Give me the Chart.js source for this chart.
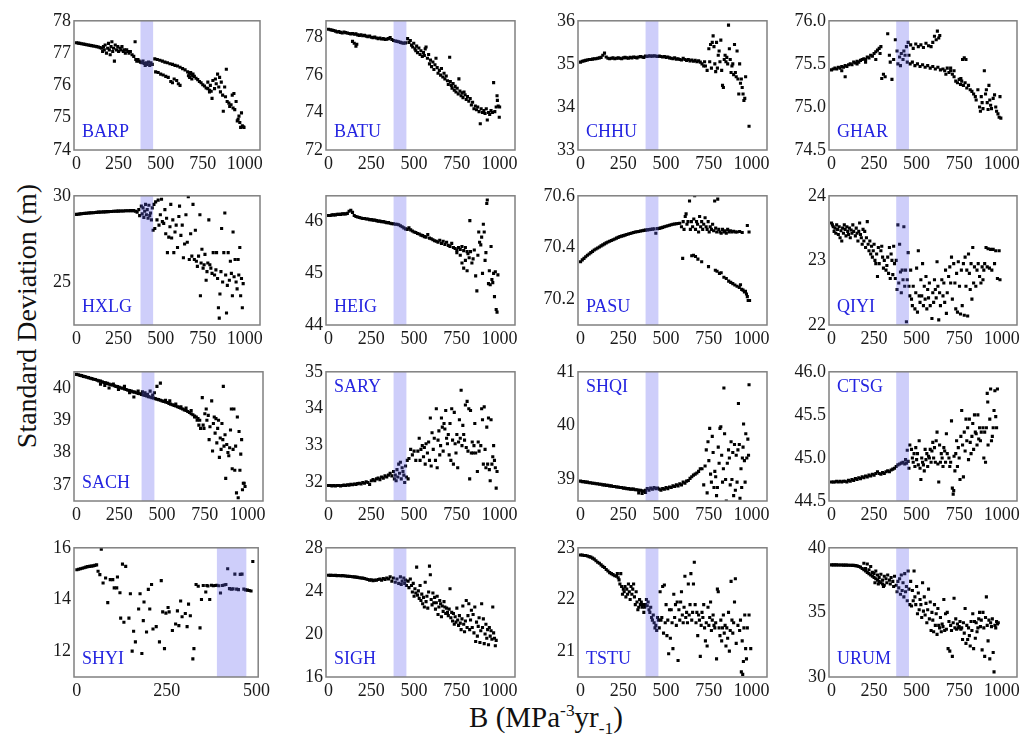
<!DOCTYPE html>
<html><head><meta charset="utf-8">
<script src="https://cdn.jsdelivr.net/npm/chart.js@4.4.0/dist/chart.umd.min.js"></script>
<style>
body{margin:0;background:#fff;width:1020px;height:737px;position:relative;overflow:hidden;font-family:'Liberation Serif',serif;}
canvas{position:absolute;}
#ytitle{position:absolute;left:27px;top:316px;transform:translate(-50%,-50%) rotate(-90deg);font-family:'Liberation Serif',serif;font-size:28px;line-height:28px;white-space:nowrap;color:#111;}
#xtitle{position:absolute;left:546px;top:703px;transform:translateX(-50%);font-family:'Liberation Serif',serif;font-size:29px;line-height:29px;white-space:nowrap;color:#111;}
#xtitle sup,#xtitle sub{font-size:60%;line-height:0;}
</style></head><body>
<div id="ytitle">Standard Deviation (m)</div>
<div id="xtitle">B (MPa<sup>-3</sup>yr<sub>-1</sub>)</div>
<script>
const BARP=[[0,77.32],[10,77.31],[20,77.3],[30,77.29],[40,77.28],[50,77.27],[60,77.26],[70,77.25],[80,77.24],[90,77.23],[100,77.22],[110,77.21],[120,77.2],[130,77.19],[140,77.17],[150,77.15],
[155,77.05],[160,77.2],[165,77.1],[170,77.25],[178,77.0],[185,77.15],[190,77.3],[195,77.1],[200,76.95],[205,77.2],[210,77.35],[215,77.05],[220,77.15],[225,76.75],[230,77.25],[238,77.1],[245,77.2],[250,77.05],[258,77.15],[265,77.1],[270,77.2],[278,77.05],[285,77.1],[290,77.0],[298,77.1],[305,77.05],[312,77.0],[320,77.05],[330,76.95],[340,76.9],[348,77.35],[352,76.8],[358,76.75],[365,76.8],[372,76.75],[380,76.72],[388,76.7],[395,76.75],[402,76.68],[408,76.62],[415,76.7],[420,76.65],[428,76.72],[435,76.62],[442,76.7],[450,76.65],
[465,76.82],[480,76.8],[495,76.78],[510,76.75],[525,76.72],[540,76.7],[555,76.67],[570,76.65],[585,76.62],[600,76.6],[615,76.56],[630,76.52],[645,76.48],[660,76.42],[670,76.38],[680,76.35],[690,76.3],[700,76.28],[710,76.22],[720,76.18],[730,76.12],[740,76.08],[750,76.02],[760,75.98],[770,75.92],[780,75.9],[790,75.85],[800,75.82],
[665,76.3],[672,76.25],[678,76.4],[685,76.2],[692,76.35],
[470,76.42],[485,76.4],[500,76.35],[515,76.32],[530,76.28],[545,76.25],[560,76.12],[570,76.08],[580,76.2],[595,76.15],[605,76.05],[615,76.0],
[780,76.1],[790,75.8],[795,76.0],[805,75.6],[810,76.15],[820,75.9],[825,76.2],[830,76.05],[838,76.35],[845,75.95],[850,76.25],[855,75.8],[860,76.1],[868,75.7],[872,75.2],[880,75.95],[885,75.65],[890,76.5],[895,75.5],[905,75.45],[910,75.35],[918,75.4],[925,75.7],[930,75.3],[935,75.75],[940,75.25],[948,75.5],[955,74.9],[960,74.95],[965,75.05],[970,74.85],[975,74.7],[980,75.15],[985,74.75],[990,74.72],[995,74.7]];
const BATU=[[0,78.45],[10,78.42],[20,78.4],[30,78.38],[40,78.35],[50,78.3],[60,78.32],[70,78.28],[80,78.25],[90,78.3],[100,78.27],[110,78.25],[120,78.22],[130,78.2],[140,78.22],[150,78.18],[160,78.2],[170,78.15],[180,78.12],[190,78.15],[200,78.1],[210,78.12],[220,78.08],[230,78.05],[240,78.08],[250,78.02],[260,78.0],[270,78.03],[280,77.98],[290,77.95],[300,77.98],[310,77.93],[320,77.95],[330,77.9],[340,77.92],[350,77.95],[360,78.0],[370,77.9],[380,77.85],[390,77.82],[400,77.8],[410,77.78],[420,77.75],[430,77.72],[440,77.7],[450,77.72],
[140,77.8],[150,77.7],[160,77.55],[165,77.65],
[462,77.95],[470,77.75],[478,77.85],[485,77.6],[492,77.5],[498,77.7],[505,77.4],[510,77.3],[515,77.55],[520,77.2],[528,77.45],[535,77.1],[540,77.3],[548,77.0],[555,77.2],[560,77.05],[565,77.4],[570,77.5],[578,76.9],[585,77.1],[590,76.6],[596,76.8],[602,76.45],[610,76.7],[616,76.3],[622,76.55],[628,76.9],[635,76.4],[640,76.1],[648,76.25],[655,76.0],[660,76.35],[668,75.9],[675,76.1],[680,75.8],[688,75.95],[695,75.7],[700,75.5],[708,76.95],[712,75.65],[718,75.45],[722,75.3],[728,75.55],[735,75.2],[740,75.4],[745,75.1],[752,75.3],[758,75.0],[762,75.8],[768,75.15],[775,74.9],[780,75.05],[786,74.8],[792,75.1],[798,74.95],[805,74.7],[812,74.85],[820,74.6],[828,74.75],[835,74.4],[842,74.55],[850,74.2],[858,74.35],[865,74.15],[872,74.3],[880,74.05],[887,73.4],[892,74.2],[900,74.0],[908,74.1],[915,73.95],[922,74.2],[928,73.6],[935,74.0],[942,73.9],[950,74.1],[958,74.0],[965,75.6],[972,74.05],[980,74.3],[985,74.9],[987,74.65],[992,74.35],[998,73.75],[1000,74.3]];
const CHHU=[[0,35.04],[10,35.06],[20,35.07],[30,35.08],[40,35.09],[50,35.1],[60,35.1],[70,35.11],[80,35.12],[90,35.12],[100,35.13],[110,35.14],[120,35.15],[130,35.2],[140,35.25],[150,35.16],[160,35.13],[170,35.12],[180,35.13],[190,35.14],[200,35.12],[210,35.13],[220,35.14],[230,35.13],[240,35.12],[250,35.14],[260,35.15],[270,35.14],[280,35.13],[290,35.15],[300,35.14],[310,35.16],[320,35.15],[330,35.14],[340,35.16],[350,35.17],[360,35.16],[370,35.15],[380,35.18],[390,35.17],[400,35.19],[410,35.18],[420,35.18],[430,35.19],[440,35.18],[450,35.17],[460,35.18],[470,35.17],[480,35.16],[490,35.17],[500,35.15],[510,35.16],[520,35.14],[530,35.13],[540,35.12],[550,35.14],[560,35.11],[570,35.12],[580,35.1],[590,35.09],[600,35.13],[610,35.1],[620,35.08],[630,35.1],[640,35.07],[650,35.09],[660,35.06],[670,35.08],[680,35.05],[690,35.07],[700,35.04],[710,35.0],[720,34.95],[725,35.05],
[730,34.95],[740,34.85],[750,35.35],[755,35.05],[760,35.45],[765,34.9],[770,35.5],[775,35.65],[780,35.4],[785,35.0],[790,34.82],[795,35.5],[800,34.9],[805,35.2],[810,35.3],[815,35.05],[820,35.55],[825,34.85],[830,34.5],[835,34.45],[840,35.1],[845,35.2],[850,35.05],[855,35.15],[860,35.0],[865,35.9],[870,35.35],[875,35.1],[880,34.8],[885,34.95],[890,35.0],[895,34.75],[900,35.45],[905,34.8],[910,34.7],[915,35.3],[920,34.65],[925,34.3],[930,35.0],[935,34.55],[940,34.65],[945,34.45],[950,34.3],[955,34.15],[960,34.2],[965,34.7],[985,33.55]];
const GHAR=[[0,75.43],[10,75.44],[20,75.45],[30,75.44],[40,75.46],[50,75.45],[60,75.47],[70,75.46],[80,75.48],[90,75.47],[100,75.49],[110,75.5],[120,75.49],[130,75.52],[140,75.51],[150,75.53],[160,75.52],[170,75.54],[180,75.55],[190,75.56],[200,75.55],[210,75.58],[220,75.57],[230,75.6],[240,75.59],[250,75.62],[260,75.64],[270,75.66],[280,75.68],[290,75.7],
[60,75.42],[80,75.35],[150,75.5],[200,75.52],[260,75.55],[285,75.62],[295,75.33],[305,75.38],[315,75.35],[330,75.85],[340,75.6],[345,75.52],[355,75.32],[365,75.55],[375,75.78],[385,75.65],[390,75.5],[400,75.58],[405,75.48],[410,75.62],[420,75.55],[425,75.65],[432,75.6],[440,75.7],[445,75.52],[450,75.75],[455,75.6],
[465,75.72],[480,75.68],[495,75.73],[510,75.7],[525,75.72],[540,75.69],[555,75.74],[570,75.71],[585,75.7],[595,75.75],[605,75.82],[615,75.78],[622,75.88],[630,75.8],[636,75.83],
[462,75.5],[475,75.52],[490,75.48],[505,75.5],[520,75.47],[535,75.49],[550,75.46],[565,75.48],[580,75.45],[595,75.47],[610,75.44],[625,75.46],[640,75.43],[655,75.44],[665,75.42],[672,75.38],[680,75.45],[690,75.4],[700,75.42],[710,75.38],[720,75.35],[730,75.3],[740,75.28],[750,75.32],[758,75.26],[765,75.3],[775,75.25],[785,75.28],[795,75.22],[805,75.25],[815,75.2],[825,75.18],[835,75.15],[845,75.12],
[700,75.45],[720,75.42],[770,75.55],[780,75.57],[760,75.33],[790,75.55],[850,75.08],[860,75.2],[870,75.0],[875,74.95],[880,75.12],[885,75.05],[890,74.98],[898,75.42],[905,75.15],[910,75.2],[915,75.05],[920,74.97],[925,75.25],[930,75.08],[935,75.02],[940,74.98],[950,75.1],[958,75.14],[965,75.0],[970,74.95],[978,74.92],[985,74.88],[990,75.12],[995,74.87]];
const HXLG=[[0,28.92],[10,28.93],[20,28.95],[30,28.96],[40,28.97],[50,28.98],[60,28.99],[70,29.0],[80,29.01],[90,29.02],[100,29.02],[110,29.03],[120,29.04],[130,29.05],[140,29.05],[150,29.06],[160,29.07],[170,29.07],[180,29.08],[190,29.08],[200,29.09],[210,29.09],[220,29.1],[230,29.1],[240,29.11],[250,29.11],[260,29.12],[270,29.12],[280,29.12],[290,29.13],[300,29.13],[310,29.13],[320,29.14],[330,29.14],[340,29.14],[350,29.1],[360,29.05],
[370,29.2],[375,28.85],[385,29.4],[390,28.95],[395,29.3],[400,28.75],[405,29.1],[410,29.5],[415,28.9],[420,29.2],[425,28.7],[430,29.45],[435,28.85],[440,29.0],[445,28.6],[450,29.3],
[455,28.0],[460,29.5],[465,28.1],[470,29.65],[478,28.6],[485,29.75],[490,28.3],[498,28.9],[505,29.8],[510,28.5],[518,28.4],[525,29.2],[530,27.8],[535,28.7],[540,26.7],[548,27.6],[555,28.2],[560,29.5],[565,27.55],[572,28.6],[578,26.7],[585,27.9],[592,28.3],[600,27.0],[608,28.8],[612,29.4],[620,27.7],[628,28.3],[635,26.4],[642,27.2],[650,28.9],[658,27.3],[664,29.95],[670,26.3],[678,27.8],[685,26.5],[692,29.5],[700,26.3],[706,28.0],[712,26.2],[718,25.9],[725,26.5],[733,28.9],[736,24.2],[740,26.1],[745,26.9],[752,25.8],[758,26.0],[763,26.6],[770,25.1],[775,25.6],[780,26.1],[786,28.6],[792,26.0],[798,25.8],[805,25.5],[812,26.7],[820,25.4],[828,25.7],[832,26.7],[838,25.2],[843,23.5],[848,22.9],[852,24.3],[858,25.6],[862,28.1],[868,25.0],[875,26.7],[881,29.0],[886,25.4],[891,23.2],[896,24.8],[901,26.7],[908,25.1],[914,26.2],[920,25.5],[926,24.2],[930,27.9],[936,25.3],[942,26.3],[948,25.0],[954,24.6],[960,26.3],[964,25.4],[970,27.0],[975,24.2],[980,25.2],[985,23.5],[990,24.9]];
const HEIG=[[0,46.12],[10,46.12],[20,46.13],[30,46.13],[40,46.13],[50,46.14],[60,46.14],[70,46.14],[80,46.15],[90,46.15],[100,46.15],[110,46.16],[120,46.2],[130,46.22],[140,46.18],[150,46.12],[160,46.1],[170,46.09],[180,46.08],[190,46.07],[200,46.06],[210,46.06],[220,46.05],[230,46.05],[240,46.04],[250,46.04],[260,46.03],[270,46.03],[280,46.02],[290,46.01],[300,46.01],[310,46.0],[320,46.0],[330,45.99],[340,45.98],[350,45.98],[360,45.97],[370,45.96],[380,45.96],[390,45.95],[400,45.95],[410,45.94],[420,45.92],[430,45.9],[440,45.88],[450,45.86],[460,45.85],[470,45.88],[480,45.84],[490,45.82],[500,45.8],[510,45.79],[520,45.77],[530,45.76],[540,45.74],[550,45.73],[560,45.71],[570,45.7],[580,45.75],[590,45.68],[600,45.67],[610,45.65],[620,45.63],[630,45.62],[640,45.6],[650,45.64],[660,45.58],[670,45.62],[680,45.56],[690,45.6],[700,45.54],[710,45.52],[720,45.58],[730,45.5],[740,45.48],[750,45.45],[760,45.5],[770,45.46],[780,45.52],[790,45.44],[800,45.5],[810,45.42],
[750,45.4],[770,45.35],[780,45.2],[790,45.1],[800,45.25],[810,45.05],[815,45.38],[822,45.3],[826,46.02],[830,45.42],[838,45.2],[845,45.28],[852,45.45],[860,44.95],[867,44.66],[873,45.35],[878,45.8],[883,45.6],[890,45.55],[895,45.7],[900,45.0],[905,45.95],[910,45.8],[915,45.25],[920,45.4],[925,46.35],[928,46.42],[935,44.8],[940,45.05],[945,44.78],[950,45.52],[955,44.88],[960,44.82],[965,45.0],[970,44.55],[975,45.03],[980,44.3],[985,44.25],[990,44.97]];
const PASU=[[0,70.345],[10,70.352],[20,70.358],[30,70.364],[40,70.37],[50,70.375],[60,70.38],[70,70.385],[80,70.39],[90,70.394],[100,70.398],[110,70.402],[120,70.406],[130,70.41],[140,70.414],[150,70.418],[160,70.421],[170,70.424],[180,70.427],[190,70.43],[200,70.433],[210,70.436],[220,70.439],[230,70.442],[240,70.444],[250,70.446],[260,70.448],[270,70.45],[280,70.452],[290,70.454],[300,70.456],[310,70.458],[320,70.46],[330,70.461],[340,70.462],[350,70.464],[360,70.465],[370,70.466],[380,70.467],[390,70.468],[400,70.469],[410,70.47],[420,70.471],[430,70.472],[440,70.455],[450,70.473],[460,70.474],[470,70.476],[480,70.478],[490,70.48],[500,70.482],[510,70.484],[520,70.486],[530,70.488],[540,70.49],[550,70.491],[560,70.492],[570,70.493],[580,70.494],
[590,70.48],[600,70.5],[605,70.47],[612,70.52],[617,70.53],[622,70.49],[628,70.5],[637,70.58],[642,70.47],[648,70.5],[655,70.48],[662,70.51],[667,70.6],[672,70.47],[678,70.5],[684,70.49],[690,70.46],[696,70.52],[702,70.48],[708,70.5],[714,70.47],[720,70.49],[728,70.515],[734,70.48],[740,70.47],[746,70.5],[752,70.46],[758,70.48],[765,70.47],[772,70.49],[778,70.465],[784,70.58],[790,70.475],[796,70.46],[802,70.587],[808,70.47],[815,70.46],[822,70.455],[830,70.47],[838,70.46],[845,70.465],[852,70.455],[860,70.47],[868,70.46],[876,70.465],[885,70.46],[895,70.463],[905,70.46],[915,70.46],[930,70.462],[945,70.458],[975,70.485],[985,70.46],
[597,70.358],[650,70.368],[660,70.37],[672,70.365],[686,70.355],[708,70.345],[748,70.326],[788,70.312],[798,70.308],[812,70.3],[822,70.302],[838,70.285],[852,70.28],[866,70.27],[878,70.265],[890,70.26],[902,70.255],[915,70.25],[928,70.245],[935,70.256],[942,70.238],[950,70.235],[958,70.228],[964,70.23],[970,70.22],[975,70.21],[980,70.195],[988,70.195]];
const QIYI=[[0,23.58],[5,23.55],[10,23.52],[15,23.45],[20,23.5],[25,23.42],[30,23.55],[35,23.48],[40,23.4],[45,23.52],[50,23.35],[55,23.46],[60,23.3],[65,23.5],[70,23.42],[75,23.55],[80,23.48],[85,23.38],[90,23.52],[95,23.45],[100,23.4],[105,23.5],[110,23.35],[115,23.47],[120,23.42],[125,23.55],[130,23.45],[140,23.38],[145,23.5],[150,23.42],[155,23.3],[160,23.45],[165,23.58],[170,23.4],[175,23.35],[180,23.25],[185,23.48],[190,23.3],[195,23.45],[200,23.2],[205,23.35],[210,23.6],[215,23.25],[220,23.15],[225,23.3],[230,23.1],[235,23.22],[240,23.05],[245,23.15],[250,23.25],[255,23.0],[260,22.95],[265,23.1],[270,22.75],[275,23.2],[280,22.95],[290,23.15],[295,23.22],[300,23.05],[305,22.88],[310,23.0],[320,22.85],[325,22.92],[330,23.05],[335,22.8],[340,23.2],[345,22.72],[350,23.1],[355,23.0],[360,22.78],[365,23.22],[370,22.95],[375,22.72],[380,23.0],[385,22.55],[390,23.55],[395,22.65],[400,23.25],[405,22.82],[410,22.5],[415,22.85],[420,22.7],[425,23.52],[430,22.6],[435,22.85],[440,22.05],[445,22.7],[450,23.12],[455,22.6],[460,22.45],[465,22.85],[470,22.4],[475,22.3],[480,22.6],[490,22.25],[495,22.5],[500,22.88],[505,22.2],[510,23.15],[515,22.45],[520,22.35],[525,22.7],[530,22.45],[535,22.95],[540,22.3],[545,22.6],[550,22.4],[555,22.75],[560,22.25],[565,22.55],[570,22.42],[575,22.65],[580,22.3],[590,22.1],[595,22.5],[600,22.35],[605,22.7],[610,22.55],[615,22.42],[620,22.98],[625,22.6],[630,22.08],[635,22.5],[640,22.3],[648,22.7],[655,22.45],[660,22.65],[665,22.35],[670,22.85],[675,22.18],[680,22.5],[688,22.75],[695,22.9],[700,22.65],[705,23.05],[710,22.4],[718,22.95],[725,22.65],[730,22.25],[735,22.8],[740,22.2],[745,22.98],[752,22.6],[758,22.17],[763,22.85],[768,22.3],[775,22.95],[780,22.15],[785,23.05],[790,22.6],[795,22.85],[800,22.14],[805,23.1],[810,22.8],[815,22.55],[820,22.95],[825,22.4],[830,23.2],[835,22.65],[840,22.9],[848,22.6],[855,22.85],[862,22.95],[870,22.75],[878,22.65],[885,22.9],[890,22.7],[895,22.85],[900,22.95],[908,23.2],[915,22.9],[920,23.18],[928,22.88],[935,23.17],[942,22.85],[950,23.17],[958,22.95],[965,23.15],[975,22.72],[985,23.15],[990,22.7]];
const SACH=[[0,40.42],[10,40.41],[20,40.39],[30,40.38],[40,40.36],[50,40.35],[60,40.33],[70,40.32],[80,40.3],[90,40.29],[100,40.27],[110,40.26],[120,40.24],[130,40.22],[140,40.21],[150,40.19],[160,40.17],[170,40.16],[180,40.14],[190,40.12],[200,40.1],[210,40.09],[220,40.07],[230,40.05],[240,40.04],[250,40.02],[260,40.0],[270,39.99],[280,39.97],[290,39.95],[300,39.93],[310,39.92],[320,39.9],[330,39.88],[340,39.87],[350,39.85],[360,39.83],[370,39.82],[380,39.8],[390,39.78],[400,39.77],[410,39.75],[420,39.73],[430,39.72],[440,39.7],[450,39.69],[460,39.67],[470,39.65],[480,39.64],[490,39.62],[500,39.6],[510,39.58],[520,39.57],[530,39.55],[540,39.52],[550,39.5],[560,39.48],[570,39.46],[580,39.44],[590,39.42],[600,39.4],[610,39.37],[620,39.35],[630,39.32],[640,39.3],[650,39.27],[660,39.24],[670,39.2],[680,39.17],[690,39.13],[700,39.1],[710,39.05],[720,39.0],
[140,40.12],[165,40.08],[190,40.0],[215,40.12],[245,39.95],[280,40.05],[310,39.85],[335,39.72],[360,39.9],[385,39.88],[400,39.85],[415,39.8],[430,39.9],[445,39.78],[455,39.85],[470,40.05],[490,40.15],[520,39.62],[545,39.6],[580,39.5],[610,39.42],[640,39.38],[670,39.3],[690,39.1],[705,39.0],[715,38.85],[725,38.75],
[735,39.7],[740,38.85],[745,38.75],[750,39.2],[758,39.35],[762,39.0],[770,39.15],[775,38.4],[780,38.8],[790,39.6],[795,38.05],[800,38.9],[805,39.1],[810,38.6],[815,39.05],[820,38.3],[825,38.75],[830,39.0],[835,37.85],[840,38.45],[845,38.1],[850,38.9],[855,38.4],[858,40.05],[862,38.2],[868,38.55],[872,37.2],[878,38.25],[885,38.0],[890,37.9],[895,38.15],[900,38.7],[905,39.35],[910,37.5],[915,38.1],[920,39.35],[925,37.45],[930,38.2],[935,36.75],[940,39.1],[945,36.6],[950,38.65],[955,37.45],[960,37.95],[965,38.4],[970,36.85],[975,37.05],[980,37.05],[985,36.95]];
const SARY=[[0,31.92],[10,31.92],[20,31.91],[30,31.92],[40,31.91],[50,31.92],[60,31.92],[70,31.91],[80,31.92],[90,31.93],[100,31.92],[110,31.94],[120,31.93],[130,31.95],[140,31.94],[150,31.96],[160,31.95],[170,31.97],[180,31.98],[190,31.96],[200,32.0],[210,31.98],[220,32.02],[230,32.0],[240,31.95],[250,32.05],[260,32.08],[270,32.05],[280,32.1],[290,32.12],[300,32.08],[310,32.15],[320,32.12],[330,32.18],[340,32.15],[350,32.2],[360,32.25],[370,32.18],[380,32.3],[385,32.1],[390,32.2],[395,32.05],[400,32.35],[405,32.15],[410,32.5],[415,32.25],[420,32.55],[425,32.1],[430,32.4],[435,32.3],[440,32.2],[445,32.0],[450,32.45],[455,32.15],[460,32.6],[465,32.1],[470,32.65],[480,32.9],[490,32.75],[500,32.85],[510,32.6],
[522,32.85],[530,33.2],[535,32.6],[540,32.9],[548,33.0],[555,32.7],[560,32.95],[565,32.5],[570,33.05],[578,32.8],[585,33.1],[590,32.6],[595,33.75],[600,32.45],[605,33.35],[612,32.9],[618,33.2],[625,32.6],[630,34.0],[635,32.4],[640,33.15],[645,33.4],[650,32.75],[655,33.0],[660,33.75],[665,33.5],[670,32.85],[675,33.6],[680,33.45],[685,33.95],[690,33.2],[695,33.05],[700,33.3],[705,32.75],[710,33.6],[715,32.6],[720,34.0],[725,33.15],[730,32.5],[735,33.9],[740,33.05],[745,32.8],[750,33.3],[755,32.4],[760,33.1],[765,33.7],[770,33.2],[775,34.5],[780,33.0],[785,33.55],[790,33.3],[795,33.15],[800,34.1],[805,32.95],[810,34.2],[815,32.85],[820,34.0],[825,32.1],[830,33.95],[835,32.8],[840,33.1],[845,32.8],[850,33.0],[855,33.6],[860,32.8],[870,32.3],[875,33.1],[880,32.85],[890,33.0],[895,34.0],[900,33.7],[905,32.5],[910,34.05],[915,32.9],[920,32.4],[925,33.5],[930,32.5],[935,33.75],[940,32.35],[945,32.05],[950,33.7],[955,32.5],[960,32.7],[965,33.0],[970,32.6],[975,32.4],[980,31.85],[985,32.3]];
const SHQI=[[0,38.97],[10,38.96],[20,38.96],[30,38.95],[40,38.95],[50,38.94],[60,38.94],[70,38.93],[80,38.93],[90,38.92],[100,38.92],[110,38.91],[120,38.91],[130,38.9],[140,38.9],[150,38.89],[160,38.89],[170,38.88],[180,38.88],[190,38.87],[200,38.87],[210,38.86],[220,38.86],[230,38.85],[240,38.85],[250,38.84],[260,38.84],[270,38.83],[280,38.83],[290,38.82],[300,38.82],[310,38.82],[320,38.81],[330,38.81],[340,38.8],[350,38.8],[360,38.79],[370,38.78],[380,38.8],[390,38.83],[400,38.8],[410,38.84],[420,38.82],[430,38.85],[440,38.83],[450,38.84],[460,38.82],[470,38.8],[480,38.83],[490,38.82],[500,38.85],[510,38.83],[520,38.86],[530,38.85],[540,38.88],[550,38.87],[560,38.9],[570,38.88],[580,38.92],[590,38.9],[600,38.95],[610,38.93],[620,38.97],[630,38.98],[640,39.02],[650,39.05],[660,39.08],[670,39.1],[680,39.12],[690,39.15],[700,39.2],
[340,38.75],[360,38.74],[380,38.76],
[710,39.2],[720,38.9],[728,39.25],[735,39.55],[740,38.75],[745,39.7],[750,39.35],[755,39.95],[760,39.1],[765,38.95],[770,39.8],[775,39.5],[780,38.85],[785,39.15],[790,39.05],[795,38.7],[800,38.85],[805,39.6],[810,39.3],[815,39.95],[820,39.98],[825,39.45],[830,38.95],[835,39.2],[838,40.7],[842,39.85],[848,39.0],[852,38.6],[858,39.3],[865,39.55],[870,39.4],[875,38.9],[880,39.7],[885,39.0],[890,39.5],[895,38.7],[900,39.65],[905,38.8],[910,39.45],[915,38.95],[920,39.55],[923,40.41],[928,39.65],[932,38.65],[938,39.2],[942,38.85],[946,39.4],[950,39.6],[953,40.03],[958,39.35],[962,38.95],[966,39.85],[972,39.4],[978,39.75],[982,39.45],[985,40.76]];
const CTSG=[[0,44.72],[10,44.72],[20,44.72],[30,44.73],[40,44.72],[50,44.73],[60,44.72],[70,44.73],[80,44.73],[90,44.72],[100,44.74],[110,44.73],[120,44.75],[130,44.74],[140,44.76],[150,44.75],[160,44.77],[170,44.76],[180,44.78],[190,44.77],[200,44.79],[210,44.78],[220,44.8],[230,44.79],[240,44.81],[250,44.8],[260,44.82],[270,44.84],[280,44.82],[290,44.81],[300,44.83],[310,44.82],[320,44.84],[330,44.85],[340,44.84],[350,44.86],[360,44.87],[370,44.88],[380,44.9],[390,44.92],[400,44.93],[410,44.94],[420,44.95],[430,44.93],[440,44.94],[450,44.96],[445,45.09],[455,44.88],[435,44.98],
[460,45.15],[470,45.1],[475,45.0],[480,44.95],[485,45.05],[490,44.9],[495,45.12],[500,44.98],[505,45.05],[510,44.92],[515,45.2],[520,44.88],[525,44.75],[530,45.0],[535,44.95],[540,44.92],[545,44.85],[550,45.1],[555,44.98],[560,45.05],[565,44.9],[570,45.02],[575,45.0],[580,45.1],[585,44.95],[590,45.08],[595,45.18],[600,45.0],[605,45.12],[610,44.95],[615,45.2],[620,45.3],[625,44.93],[630,44.72],[635,45.15],[640,44.95],[645,45.05],[650,45.0],[655,44.9],[660,45.12],[665,45.08],[670,44.95],[675,45.28],[680,45.05],[690,45.0],[695,44.9],[700,44.95],[705,45.43],[710,44.65],[715,44.58],[718,44.62],[720,45.02],[725,44.85],[730,45.05],[735,45.2],[740,44.9],[745,45.12],[750,45.0],[755,44.75],[760,45.25],[765,45.55],[770,45.15],[775,44.78],[780,45.3],[785,45.08],[790,45.45],[795,45.2],[800,45.35],[805,44.98],[810,45.45],[815,45.18],[820,45.05],[825,45.25],[830,45.4],[835,45.1],[840,45.5],[845,45.3],[850,45.28],[855,45.15],[860,45.5],[865,45.22],[870,45.35],[875,45.2],[880,45.3],[890,45.35],[895,45.0],[900,45.3],[905,44.95],[910,45.35],[915,45.75],[918,45.65],[920,45.15],[930,45.45],[935,45.8],[940,45.2],[945,45.25],[950,45.35],[955,45.55],[960,45.78],[965,45.48],[970,45.35],[975,45.8]];
const SHYI=[[0,15.15],[5,15.17],[10,15.19],[15,15.21],[20,15.23],[25,15.25],[30,15.27],[35,15.28],[40,15.29],[45,15.3],[50,15.32],[55,15.34],[59,15.09],[64,14.96],[68,15.95],
[73,14.64],[80,14.83],[86,13.88],[93,14.77],[100,14.77],[104,14.45],[111,14.45],[113,14.87],[120,14.26],[122,13.28],[127,15.37],[131,13.12],[136,15.28],[145,13.28],[149,14.22],[154,12.0],[158,12.77],[163,12.36],[172,13.63],[176,14.22],[181,11.91],[185,13.18],[187,13.9],[194,12.74],[199,14.39],[203,13.63],[208,14.58],[212,12.86],[221,12.95],[230,12.36],[235,14.73],[239,13.52],[244,12.1],[248,13.47],[254,13.69],[257,13.52],[266,12.8],[275,13.05],[280,13.56],[284,12.99],[289,13.94],[293,13.33],[302,13.46],[307,12.95],[311,13.82],[316,13.37],[323,11.7],[326,12.1],[332,14.58],[338,14.51],[343,12.9],[347,14.0],[352,14.54],[359,14.29],[362,14.54],[370,14.0],
[365,14.52],[375,14.55],[380,14.53],[385,14.54],[390,14.55],[395,14.53],[400,14.25],[405,14.54],[410,14.56],[415,14.58],[420,15.19],[425,14.42],[430,14.4],[435,14.41],[440,14.98],[445,14.4],[450,14.38],[455,14.97],[460,14.98],[465,14.4],[470,14.37],[475,14.36],[480,14.35],[485,14.33],[490,15.47]];
const SIGH=[[0,25.45],[10,25.44],[20,25.45],[30,25.43],[40,25.44],[50,25.42],[60,25.43],[70,25.41],[80,25.42],[90,25.4],[100,25.38],[110,25.36],[120,25.35],[130,25.33],[140,25.31],[150,25.3],[160,25.28],[170,25.25],[180,25.22],[190,25.2],[200,25.18],[210,25.15],[220,25.1],[230,25.05],[240,25.0],[250,25.02],[260,24.95],[270,25.0],[280,24.98],[290,25.05],[300,25.1],[310,25.0],[320,25.15],[330,25.05],[340,25.2],[350,25.1],[360,25.3],[370,24.9],[380,25.2],[390,24.8],[400,25.1],[410,24.7],[420,25.3],[425,24.6],[430,24.9],[440,25.2],[445,24.7],[450,25.0],[455,24.5],
[465,24.9],[470,24.3],[478,25.1],[485,24.5],[490,23.9],[495,24.7],[500,23.5],[505,24.2],[510,23.8],[515,26.2],[520,23.6],[525,24.0],[530,23.3],[535,24.5],[540,23.1],[545,23.7],[550,22.8],[555,23.4],[560,22.5],[565,24.8],[570,23.0],[575,23.5],[580,22.4],[585,23.9],[590,26.3],[595,25.5],[600,23.2],[605,22.7],[610,23.8],[615,22.9],[620,23.4],[625,22.3],[630,22.9],[635,23.5],[640,21.8],[645,22.5],[650,23.1],[655,22.8],[660,21.6],[665,22.6],[670,22.1],[675,23.0],[680,22.5],[685,21.9],[690,22.4],[695,22.0],[700,21.7],[705,22.3],[710,24.2],[715,21.5],[720,22.0],[725,21.2],[730,21.9],[735,20.9],[740,21.6],[745,21.1],[750,22.4],[755,21.3],[760,20.8],[765,21.7],[770,21.0],[775,20.4],[780,21.4],[785,22.6],[790,20.9],[795,20.2],[800,21.2],[805,23.1],[810,20.6],[815,21.7],[820,22.8],[825,20.4],[830,21.3],[835,22.2],[840,20.6],[845,21.8],[850,20.1],[855,22.5],[860,19.3],[865,21.1],[870,19.8],[875,20.7],[880,21.5],[885,19.2],[890,20.3],[895,22.8],[900,20.6],[905,21.4],[910,19.1],[915,20.0],[920,20.9],[925,19.6],[930,20.4],[935,19.0],[940,20.6],[945,19.8],[950,20.3],[955,19.5],[960,22.5],[965,20.1],[970,19.6],[975,18.9],[980,19.4]];
const TSTU=[[0,22.86],[10,22.86],[20,22.85],[30,22.85],[40,22.84],[50,22.83],[60,22.82],[70,22.8],[80,22.78],[90,22.75],[100,22.72],[110,22.7],[120,22.67],[130,22.64],[140,22.62],[150,22.58],[160,22.55],[170,22.52],[180,22.5],[190,22.48],[200,22.46],[210,22.45],[215,22.5],[220,22.42],[225,22.38],[230,22.3],[235,22.5],[240,22.25],
[245,22.1],[250,22.2],[255,22.15],[260,22.25],[265,22.05],[270,22.2],[275,22.1],[280,22.3],[285,22.15],[290,22.0],[295,22.25],[300,22.1],[305,22.2],[310,22.3],[315,22.05],[320,21.9],[325,22.15],[330,21.95],[335,21.8],[340,21.85],[345,22.0],[350,21.9],[355,21.95],[360,21.85],[365,21.9],[370,21.75],[375,21.85],[380,21.9],[385,22.0],[390,21.88],[395,21.95],[400,21.8],[405,21.75],[410,21.85],[415,21.65],[420,21.6],[425,21.7],[430,21.55],[435,21.45],[440,21.5],[445,21.4],[450,21.65],[455,21.6],[460,21.45],
[465,22.15],[470,21.6],[475,21.65],[480,22.25],[485,21.35],[490,22.28],[495,21.55],[500,21.9],[505,21.3],[510,21.6],[515,20.95],[520,21.8],[525,21.25],[530,21.8],[535,21.55],[540,21.05],[545,22.1],[550,21.65],[555,21.9],[560,21.5],[565,21.95],[570,20.82],[575,21.8],[580,21.6],[585,21.95],[590,22.15],[595,21.7],[600,21.55],[605,21.85],[610,22.45],[615,21.65],[620,21.75],[625,21.55],[630,22.3],[635,21.7],[640,21.9],[645,22.5],[650,21.6],[655,21.75],[660,22.3],[665,22.72],[670,21.9],[675,21.55],[680,21.75],[685,21.3],[690,21.7],[695,21.6],[700,20.9],[705,21.5],[710,21.75],[715,21.65],[720,21.9],[725,21.45],[730,21.2],[735,21.55],[740,21.1],[745,21.85],[750,21.5],[755,21.65],[760,21.95],[765,21.4],[770,21.6],[775,21.7],[780,21.5],[785,21.45],[790,21.55],[795,20.85],[800,22.2],[805,22.15],[810,21.45],[815,21.3],[820,21.6],[825,21.2],[830,21.45],[835,21.7],[840,21.35],[845,21.5],[850,21.1],[855,21.45],[860,21.25],[865,21.75],[870,21.0],[875,21.4],[880,22.35],[885,21.6],[890,21.35],[895,21.55],[900,21.95],[905,22.4],[910,21.15],[940,20.6],[948,20.55],[920,21.5],[930,21.4],[935,21.6],[952,20.8],[945,21.2],[955,21.45],[960,21.7],[965,21.05],[970,20.85],[975,21.45],[985,21.7],[995,21.05]];
const URUM=[[0,38.68],[10,38.68],[20,38.68],[30,38.68],[40,38.67],[50,38.67],[60,38.67],[70,38.66],[80,38.66],[90,38.66],[100,38.65],[110,38.65],[120,38.64],[130,38.64],[140,38.62],[150,38.6],[160,38.55],[170,38.5],[180,38.4],[190,38.3],[200,38.2],[210,38.1],[220,38.0],[230,37.9],[240,37.8],[250,37.7],[260,37.6],[270,37.5],[280,37.4],[290,37.3],[300,37.2],[310,37.1],
[190,38.8],[200,38.4],[210,38.75],[220,38.3],[230,38.55],[240,38.1],[250,38.0],[255,37.3],[260,38.2],[270,37.9],[275,37.2],[280,37.7],[290,37.95],[300,37.5],[305,37.0],[310,37.8],[320,37.6],[325,37.3],[330,37.9],[340,37.5],[345,37.2],[350,37.7],[360,37.4],[365,37.0],[370,37.8],[380,37.1],[385,36.6],[390,37.4],[395,36.9],[400,37.6],[405,36.4],[410,37.9],[415,36.7],[420,37.3],[425,36.2],[430,38.0],[435,36.6],[440,37.0],[445,35.9],[450,38.2],[455,36.8],[460,35.6],
[465,37.4],[470,35.5],[475,36.7],[480,35.9],[485,38.2],[490,36.2],[495,35.6],[500,37.0],[505,34.9],[510,36.5],[515,35.2],[520,36.0],[525,35.6],[530,34.6],[535,37.3],[540,35.1],[545,36.2],[550,34.8],[555,35.7],[560,34.2],[565,35.2],[570,36.8],[575,34.5],[580,35.8],[585,33.6],[590,35.0],[595,34.4],[600,33.5],[605,35.6],[610,34.0],[615,34.9],[620,33.3],[625,35.3],[630,34.0],[635,33.8],[640,34.6],[645,33.5],[650,34.1],[655,33.9],[660,36.0],[665,33.6],[670,34.9],[675,33.7],[680,35.0],[685,32.2],[690,34.3],[695,32.0],[700,34.0],[705,33.6],[710,31.6],[715,34.2],[720,36.1],[725,33.8],[730,34.5],[735,33.7],[740,34.1],[745,33.8],[750,33.9],[755,34.3],[760,33.7],[765,33.8],[770,32.9],[775,34.2],[780,33.4],[785,35.3],[790,32.6],[795,34.0],[800,32.9],[805,33.8],[810,33.2],[815,32.4],[820,34.3],[825,33.6],[830,34.9],[835,32.2],[840,34.3],[845,33.0],[850,34.2],[855,33.5],[860,33.8],[865,34.5],[870,35.0],[875,33.9],[880,34.4],[885,32.1],[890,35.0],[895,33.8],[900,31.6],[905,34.6],[910,36.2],[915,34.0],[920,32.8],[925,34.4],[930,31.4],[935,34.2],[940,33.9],[945,34.5],[950,31.9],[955,30.4],[960,34.0],[965,33.8],[970,34.3],[975,34.1],[980,34.2]];

const stations=['BARP','BATU','CHHU','GHAR','HXLG','HEIG','PASU','QIYI','SACH','SARY','SHQI','CTSG','SHYI','SIGH','TSTU','URUM'];
const seriesValues=[BARP,BATU,CHHU,GHAR,HXLG,HEIG,PASU,QIYI,SACH,SARY,SHQI,CTSG,SHYI,SIGH,TSTU,URUM];
const yMin=[74,72,33,74.5,22.5,44,70.1,22,36.5,31.5,38.6,44.5,11,16,20.5,30];
const yMax=[78,78.9,36,76,30,46.5,70.6,24,40.5,35,41,46,16,28,23,40];
const yTicks=[[74,75,76,77,78],[72,74,76,78],[33,34,35,36],[74.5,75,75.5,76],[25,30],[44,45,46],[70.2,70.4,70.6],[22,23,24],[37,38,39,40],[32,33,34,35],[39,40,41],[44.5,45,45.5,46],[12,14,16],[16,20,24,28],[21,22,23],[30,35,40]];
const yDecimals=[0,0,0,1,0,0,1,0,0,0,0,1,0,0,0,0];
const labelAtTop=[false,false,false,false,false,false,false,false,false,true,true,true,false,false,false,false];
const xTicksLong=[0,250,500,750,1000];
const xTicksShort=[0,250,500];
const xRangeLong=[-15,1090];
const xRangeShort=[-8,505];
const bandLong=[380,455];
const bandShort=[390,472];

const deco={
  id:'deco',
  afterDatasetsDraw(chart,args,o){
    const ctx=chart.ctx,a=chart.chartArea,x=chart.scales.x;
    const b0=x.getPixelForValue(o.band[0]),b1=x.getPixelForValue(o.band[1]);
    ctx.save();
    ctx.fillStyle='rgba(97,97,239,0.31)';
    ctx.fillRect(b0,a.top,b1-b0,a.bottom-a.top);
    ctx.strokeStyle='#808080';ctx.lineWidth=1.5;
    ctx.strokeRect(a.left,a.top,a.right-a.left,a.bottom-a.top);
    ctx.fillStyle='#2424e0';ctx.font="18px 'Liberation Serif'";ctx.textBaseline='middle';ctx.textAlign='left';
    ctx.fillText(o.name,a.left+8,o.top?a.top+15:a.bottom-18);
    ctx.restore();
  }
};

const colLeft=[73.5,326,577.5,829];
const colW=[186,189,189,188];
const rowTop=[19,194,370,546];
const font={family:"'Liberation Serif'",size:18};

stations.forEach((name,i)=>{
  const col=i%4,row=Math.floor(i/4);
  const short=(i===12);
  const L=colLeft[col],T=rowTop[row],W=(col===0&&row>=2)?189:colW[col],H=131;
  const padL=52,padT=12,padR=10,padB=30;
  const cv=document.createElement('canvas');
  cv.width=padL+W+padR;cv.height=padT+H+padB;
  cv.style.left=(L-padL)+'px';cv.style.top=(T-padT)+'px';
  document.body.appendChild(cv);
  const xt=short?xTicksShort:xTicksLong;
  const xr=short?xRangeShort:xRangeLong;
  const yt=yTicks[i],dec=yDecimals[i];
  new Chart(cv,{
    type:'scatter',
    data:{datasets:[{data:seriesValues[i].map(p=>({x:p[0],y:p[1]})),pointStyle:'rect',pointRadius:2.2,pointHoverRadius:2.2,backgroundColor:'#000',borderWidth:0}]},
    options:{
      responsive:false,animation:false,devicePixelRatio:1,events:[],
      layout:{padding:{top:padT,right:padR,left:0,bottom:0}},
      plugins:{legend:{display:false},tooltip:{enabled:false},deco:{band:short?bandShort:bandLong,name:name,top:labelAtTop[i]}},
      scales:{
        x:{type:'linear',min:xr[0],max:xr[1],
          afterBuildTicks:s=>{s.ticks=xt.map(v=>({value:v}));},
          afterFit:s=>{s.height=padB;},
          grid:{display:false,drawTicks:false},border:{display:false},
          ticks:{autoSkip:false,maxRotation:0,minRotation:0,padding:3,color:'#1a1a1a',font:font,callback:v=>String(v)}},
        y:{type:'linear',min:yMin[i],max:yMax[i],
          afterBuildTicks:s=>{s.ticks=yt.map(v=>({value:v}));},
          afterFit:s=>{s.width=padL;},
          grid:{display:false,drawTicks:false},border:{display:false},
          ticks:{autoSkip:false,padding:3,color:'#1a1a1a',font:font,callback:v=>Number(v).toFixed(dec)}}
      }
    },
    plugins:[deco]
  });
});
</script>
</body></html>
